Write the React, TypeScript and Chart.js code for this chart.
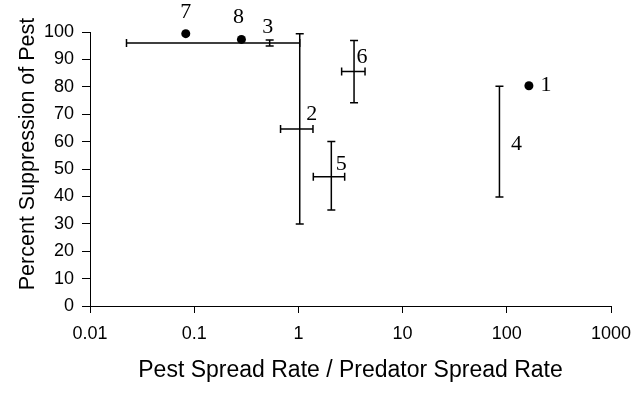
import React, { useEffect, useRef } from "react";
import { Chart, registerables } from "chart.js";

Chart.register(...registerables);

// ---- Data ----
const pointIds = ["1", "2", "3", "4", "5", "6", "7", "8"];
const spreadRatio = [163, 1.03, 0.53, 85, 2.07, 3.42, 0.083, 0.284];
const suppression = [80.4, 64.6, 96.0, 60.2, 47.2, 85.6, 99.4, 97.3];
const ratioLow: (number | null)[] = [null, 0.674, 0.0224, null, 1.39, 2.6, null, null];
const ratioHigh: (number | null)[] = [null, 1.38, 1.03, null, 2.78, 4.36, null, null];
const suppressionLow: (number | null)[] = [null, 29.9, 94.9, 39.8, 35.0, 74.2, null, null];
const suppressionHigh: (number | null)[] = [null, 99.4, 97.1, 80.2, 60.0, 96.9, null, null];
const hasMarker = [true, false, false, false, false, false, true, true];
const xTickValues = [0.01, 0.1, 1, 10, 100, 1000];
const xTickLabels = ["0.01", "0.1", "1", "10", "100", "1000"];
const xTitle = "Pest Spread Rate / Predator Spread Rate";
const yTitle = "Percent Suppression of Pest";

// ---- Label placement (pixel offsets from each point) ----
const LABEL_OFFSETS: [number, number][] = [
  [17, 0],
  [12, -15],
  [-2, -16],
  [17, 3],
  [10, -12],
  [8, -14],
  [0, -21],
  [-3, -22],
];

const sansFont = '"Liberation Sans", Arial, sans-serif';

const errorBarPlugin = {
  id: "errorBars",
  afterDatasetsDraw(chart: any) {
    const ctx = chart.ctx;
    const xs = chart.scales.x;
    const ys = chart.scales.y;
    const cap = 4;
    ctx.save();
    ctx.strokeStyle = "#000";
    ctx.lineWidth = 1.5;
    for (let i = 0; i < pointIds.length; i++) {
      const px = xs.getPixelForValue(spreadRatio[i]);
      const py = ys.getPixelForValue(suppression[i]);
      const yl = suppressionLow[i];
      const yh = suppressionHigh[i];
      if (yl != null && yh != null) {
        const a = ys.getPixelForValue(yl);
        const b = ys.getPixelForValue(yh);
        ctx.beginPath();
        ctx.moveTo(px, a);
        ctx.lineTo(px, b);
        ctx.moveTo(px - cap, a);
        ctx.lineTo(px + cap, a);
        ctx.moveTo(px - cap, b);
        ctx.lineTo(px + cap, b);
        ctx.stroke();
      }
      const xl = ratioLow[i];
      const xh = ratioHigh[i];
      if (xl != null && xh != null) {
        const a = xs.getPixelForValue(xl);
        const b = xs.getPixelForValue(xh);
        ctx.beginPath();
        ctx.moveTo(a, py);
        ctx.lineTo(b, py);
        ctx.moveTo(a, py - cap);
        ctx.lineTo(a, py + cap);
        ctx.moveTo(b, py - cap);
        ctx.lineTo(b, py + cap);
        ctx.stroke();
      }
    }
    ctx.fillStyle = "#000";
    ctx.font = '22px "Liberation Serif", "Times New Roman", serif';
    ctx.textAlign = "center";
    ctx.textBaseline = "middle";
    for (let i = 0; i < pointIds.length; i++) {
      const px = xs.getPixelForValue(spreadRatio[i]);
      const py = ys.getPixelForValue(suppression[i]);
      const [dx, dy] = LABEL_OFFSETS[i];
      ctx.fillText(pointIds[i], px + dx, py + dy);
    }
    // y-axis title
    ctx.save();
    ctx.translate(28, 154);
    ctx.rotate(-Math.PI / 2);
    ctx.font = `21.5px ${sansFont}`;
    ctx.fillText(yTitle, 0, 0);
    ctx.restore();
    ctx.restore();
  },
};

export default function App() {
  const canvasRef = useRef<HTMLCanvasElement | null>(null);

  useEffect(() => {
    if (!canvasRef.current) return;
    const chart = new Chart(canvasRef.current, {
      type: "scatter",
      data: {
        datasets: [
          {
            data: spreadRatio.map((x, i) => ({ x, y: suppression[i] })),
            pointRadius: hasMarker.map((m) => (m ? 4.5 : 0)),
            pointHoverRadius: hasMarker.map((m) => (m ? 4.5 : 0)),
            backgroundColor: "#000",
            borderColor: "#000",
            borderWidth: 0,
            showLine: false,
            clip: false,
          },
        ],
      },
      options: {
        responsive: true,
        maintainAspectRatio: false,
        animation: false,
        layout: { padding: { top: 32, right: 31, left: 0, bottom: 0 } },
        plugins: {
          legend: { display: false },
          tooltip: { enabled: false },
        },
        scales: {
          x: {
            type: "logarithmic",
            position: "bottom",
            min: 0.01,
            max: 1000,
            afterBuildTicks: (scale: any) => {
              scale.ticks = xTickValues.map((v) => ({ value: v }));
            },
            afterFit: (scale: any) => {
              scale.height = 89;
            },
            ticks: {
              autoSkip: false,
              maxRotation: 0,
              minRotation: 0,
              padding: 10,
              color: "#000",
              font: { family: sansFont, size: 18 },
              callback: (_v: any, index: number) => xTickLabels[index],
            },
            grid: {
              display: true,
              drawOnChartArea: false,
              drawTicks: true,
              tickLength: 7,
              color: "#000",
              lineWidth: 1,
            },
            border: { display: true, color: "#000", width: 1 },
            title: {
              display: true,
              text: xTitle,
              color: "#000",
              font: { family: sansFont, size: 23 },
              padding: { top: 0, bottom: 11 },
            },
          },
          y: {
            type: "linear",
            min: 0,
            max: 100,
            afterFit: (scale: any) => {
              scale.width = 90;
            },
            ticks: {
              stepSize: 10,
              padding: 8,
              color: "#000",
              font: { family: sansFont, size: 18 },
            },
            grid: {
              display: true,
              drawOnChartArea: false,
              drawTicks: true,
              tickLength: 8,
              color: "#000",
              lineWidth: 1,
            },
            border: { display: true, color: "#000", width: 1 },
            title: { display: false },
          },
        },
      },
      plugins: [errorBarPlugin],
    } as any);
    return () => chart.destroy();
  }, []);

  return (
    <div style={{ position: "absolute", left: 0, top: 0, width: 642, height: 395, background: "#fff" }}>
      <canvas ref={canvasRef} />
    </div>
  );
}
